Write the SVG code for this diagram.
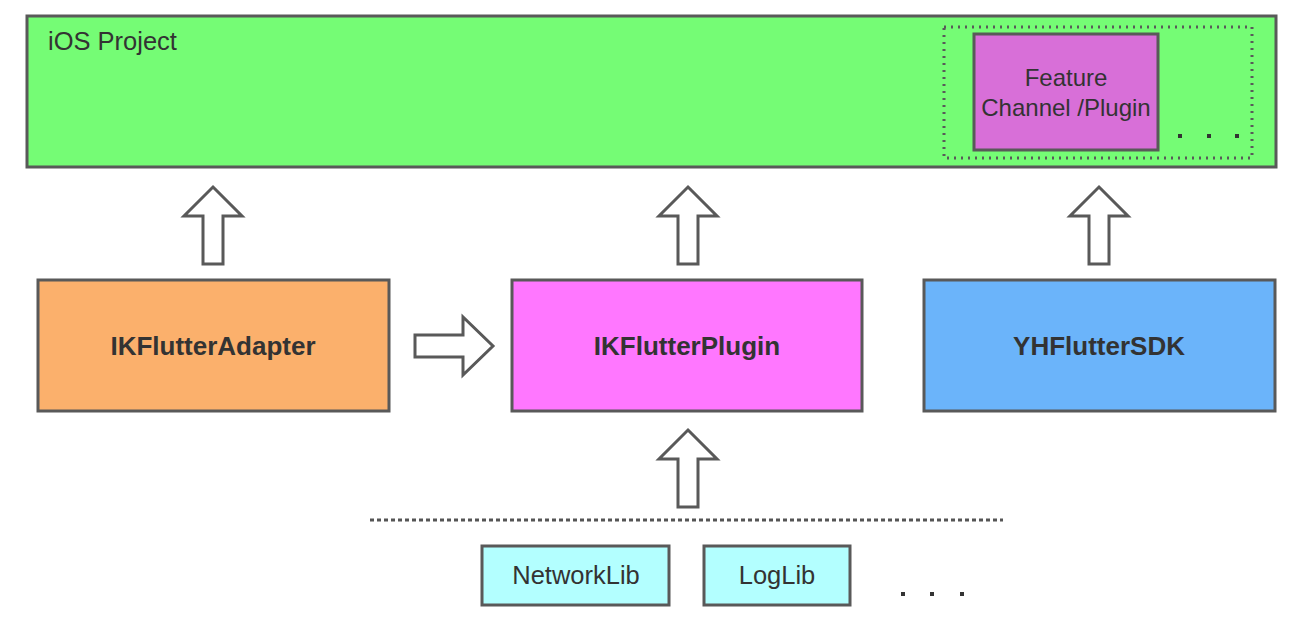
<svg xmlns="http://www.w3.org/2000/svg" width="1304" height="634" viewBox="0 0 1304 634">
<defs>
<style>
.box{stroke:#595959;stroke-width:3}
.arr{fill:#fff;stroke:#595959;stroke-width:3;stroke-linejoin:miter}
.lbl{font-family:"Liberation Sans",Arial,sans-serif;font-size:25.5px;fill:#333}
.b{font-weight:bold;text-anchor:middle;font-size:26px}
.c{text-anchor:middle}
.f{font-size:24px}
.dot{fill:#333}
</style>
<path id="up" d="M0,0 L29,29 L10,29 L10,77 L-10,77 L-10,29 L-29,29 Z"/>
</defs>
<rect width="1304" height="634" fill="#fff"/>
<g id="ios">
<rect class="box" x="27" y="16" width="1249" height="151" fill="#75fc75"/>
<text class="lbl" x="48" y="50">iOS Project</text>
<rect x="944" y="27" width="308" height="131" fill="none" stroke="#595959" stroke-width="3" stroke-dasharray="2 5"/>
</g>
<g id="feature">
<rect class="box" x="974" y="34" width="184" height="116" fill="#d86fd8"/>
<text class="lbl c f" x="1066" y="86">Feature</text>
<text class="lbl c f" x="1066" y="116">Channel /Plugin</text>
</g>
<g id="dots1" class="dot">
<rect x="1178" y="134" width="4" height="4"/><rect x="1207" y="134" width="4" height="4"/><rect x="1235" y="134" width="4" height="4"/>
</g>
<g id="adapter">
<rect class="box" x="38" y="280" width="351" height="131" fill="#fbb06c"/>
<text class="lbl b" x="213" y="355">IKFlutterAdapter</text>
</g>
<g id="plugin">
<rect class="box" x="512" y="280" width="350" height="131" fill="#ff77ff"/>
<text class="lbl b" x="687" y="355">IKFlutterPlugin</text>
</g>
<g id="sdk">
<rect class="box" x="924" y="280" width="351" height="131" fill="#6bb4fa"/>
<text class="lbl b" x="1099" y="355">YHFlutterSDK</text>
</g>
<g id="network">
<rect class="box" x="482" y="546" width="187" height="59" fill="#b3ffff"/>
<text class="lbl c" x="576" y="584">NetworkLib</text>
</g>
<g id="loglib">
<rect class="box" x="704" y="546" width="146" height="59" fill="#b3ffff"/>
<text class="lbl c" x="777" y="584">LogLib</text>
</g>
<g id="dots2" class="dot">
<rect x="901" y="592" width="4" height="4"/><rect x="930" y="592" width="4" height="4"/><rect x="960" y="592" width="4" height="4"/>
</g>
<g id="connectors">
<use href="#up" class="arr" x="213" y="187"/>
<use href="#up" class="arr" x="688" y="187"/>
<use href="#up" class="arr" x="1099" y="187"/>
<use href="#up" class="arr" x="688" y="430"/>
<path class="arr" d="M415,335 L463,335 L463,317 L493,346 L463,375 L463,357 L415,357 Z"/>
<line x1="370" y1="520" x2="1003" y2="520" stroke="#555" stroke-width="3" stroke-dasharray="4 3"/>
</g>
</svg>
